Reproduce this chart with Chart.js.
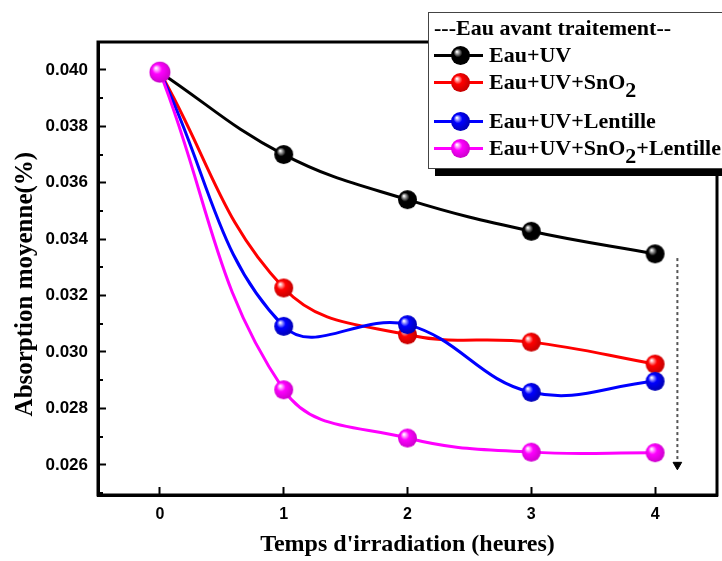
<!DOCTYPE html>
<html>
<head>
<meta charset="utf-8">
<script src="https://cdn.jsdelivr.net/npm/chart.js@4/dist/chart.umd.min.js"></script>
<style>
html,body{margin:0;padding:0;background:#fff;overflow:hidden;}
#wrap{position:relative;width:722px;height:561px;overflow:hidden;background:#fff;}
#c{position:absolute;left:0;top:0;}
#legend{position:absolute;left:428px;top:12px;width:330px;height:155px;border:1px solid #444;background:#fff;box-shadow:7px 7px 0 0 #000;font-family:"Liberation Serif","Times New Roman",serif;font-weight:bold;font-size:22px;line-height:22px;color:#000;z-index:2;}
.row{position:absolute;left:0;height:22px;white-space:nowrap;}
.ttl{left:5px;}
.ln{position:absolute;left:5px;top:10px;width:49px;height:3px;}
.sp{position:absolute;left:21px;top:1px;}
.tx{position:absolute;left:60px;top:0;}
.sb{display:inline-block;vertical-align:-8px;}
</style>
</head>
<body>
<div id="wrap">
<canvas id="c" width="722" height="561"></canvas>
<div id="legend">
  <div class="row ttl" style="top:4px">---Eau avant traitement--</div>
  <div class="row" style="top:31px;width:320px"><div class="ln" style="background:#000"></div><span class="sp" id="lg0"></span><span class="tx">Eau+UV</span></div>
  <div class="row" style="top:58px;width:320px"><div class="ln" style="background:#ff0000"></div><span class="sp" id="lg1"></span><span class="tx">Eau+UV+SnO<span class="sb">2</span></span></div>
  <div class="row" style="top:97px;width:320px"><div class="ln" style="background:#0000ff"></div><span class="sp" id="lg2"></span><span class="tx">Eau+UV+Lentille</span></div>
  <div class="row" style="top:124px;width:320px"><div class="ln" style="background:#ff00ff"></div><span class="sp" id="lg3"></span><span class="tx">Eau+UV+SnO<span class="sb">2</span>+Lentille</span></div>
</div>
</div>
<script>
// ---- data ----
const hours = [0, 1, 2, 3, 4];
const eauUV = [0.03992, 0.03700, 0.03540, 0.03428, 0.03348];
const eauUVSnO2 = [0.03992, 0.03227, 0.03061, 0.03035, 0.02957];
const eauUVLentille = [0.03992, 0.03091, 0.03097, 0.02857, 0.02896];
const eauUVSnO2Lentille = [0.03992, 0.02866, 0.02695, 0.02645, 0.02643];
const seriesLabels = ['Eau+UV', 'Eau+UV+SnO2', 'Eau+UV+Lentille', 'Eau+UV+SnO2+Lentille'];
const xTicks = [0, 1, 2, 3, 4];
const yTicks = [0.026, 0.028, 0.030, 0.032, 0.034, 0.036, 0.038, 0.040];
const yMinorTicks = [0.025, 0.027, 0.029, 0.031, 0.033, 0.035, 0.037, 0.039];
const arrowX = [4.18, 4.18];
const arrowY = [0.03333, 0.02600];

// ---- sphere markers ----
function sphere(color, edge, mid, r) {
  const s = Math.ceil(2 * r + 2);
  const c = document.createElement('canvas');
  c.width = c.height = s;
  const g = c.getContext('2d');
  const cx = s / 2, cy = s / 2;
  const grad = g.createRadialGradient(cx - r * 0.38, cy - r * 0.4, r * 0.04, cx - r * 0.1, cy - r * 0.1, r * 1.05);
  grad.addColorStop(0, '#ffffff');
  grad.addColorStop(0.16, mid);
  grad.addColorStop(0.42, color);
  grad.addColorStop(1, edge);
  g.fillStyle = grad;
  g.beginPath();
  g.arc(cx, cy, r, 0, Math.PI * 2);
  g.fill();
  return c;
}
const colors = ['#000000', '#ff0000', '#0000ff', '#ff00ff'];
const edges = ['#000000', '#c80000', '#0000b8', '#d000d0'];
const mids = ['#9a9a9a', '#ff9a9a', '#9a9aff', '#ffa0ff'];
const markers = colors.map((c, i) => sphere(c, edges[i], mids[i], 9.5));
const markerBig = sphere(colors[3], edges[3], mids[3], 10.5);
colors.forEach((c, i) => {
  document.getElementById('lg' + i).appendChild(sphere(c, edges[i], mids[i], 9.5));
});

function pts(ys) { return hours.map((h, i) => ({x: h, y: ys[i]})); }
const allSeries = [eauUV, eauUVSnO2, eauUVLentille, eauUVSnO2Lentille];
const datasets = allSeries.map((ys, i) => ({
  label: seriesLabels[i],
  data: pts(ys),
  borderColor: colors[i],
  backgroundColor: colors[i],
  borderWidth: 3,
  tension: 0.4,
  pointStyle: (i === 3) ? hours.map((h, k) => k === 0 ? markerBig : markers[3]) : markers[i],
  pointRadius: 9,
  order: 3 - i,
  clip: false
}));
datasets.push({
  label: 'arrow',
  data: arrowX.map((x, i) => ({x: x, y: arrowY[i]})),
  borderColor: '#555555',
  borderWidth: 2,
  borderDash: [3, 3],
  pointStyle: 'triangle',
  rotation: 180,
  pointRadius: [0, 5],
  pointBackgroundColor: '#000',
  pointBorderColor: '#000',
  pointBorderWidth: 1,
  tension: 0,
  order: 10
});

const framePlugin = {
  id: 'frame',
  afterDatasetsDraw(chart) {
    const {ctx, chartArea: a, scales: {y}} = chart;
    ctx.save();
    ctx.strokeStyle = '#000';
    ctx.lineWidth = 3;
    ctx.strokeRect(a.left, a.top, a.right - a.left, a.bottom - a.top);
    ctx.lineWidth = 2;
    yMinorTicks.forEach(v => {
      const p = Math.round(y.getPixelForValue(v));
      ctx.beginPath();
      ctx.moveTo(a.left, p);
      ctx.lineTo(a.left + 5, p);
      ctx.stroke();
    });
    ctx.restore();
  }
};

new Chart(document.getElementById('c'), {
  type: 'line',
  data: {datasets: datasets},
  options: {
    responsive: false,
    animation: false,
    events: [],
    layout: {autoPadding: false, padding: {left: 0, right: 5, top: 42, bottom: 0}},
    plugins: {legend: {display: false}, tooltip: {enabled: false}},
    scales: {
      x: {
        type: 'linear',
        min: -0.5, max: 4.5,
        afterBuildTicks: s => { s.ticks = xTicks.map(v => ({value: v})); },
        afterFit: s => { s.height = 66; s.paddingLeft = 0; s.paddingRight = 0; },
        grid: {drawOnChartArea: false, drawTicks: true, tickLength: -8, tickWidth: 2, tickColor: '#000'},
        border: {display: true, width: 3, color: '#000'},
        ticks: {
          autoSkip: false, maxRotation: 0, padding: 18, color: '#000',
          font: {family: '"Liberation Sans", Arial, sans-serif', weight: 'bold', size: 16},
          callback: v => String(v)
        },
        title: {
          display: true, text: "Temps d'irradiation (heures)", color: '#000',
          font: {family: '"Liberation Serif", "Times New Roman", serif', weight: 'bold', size: 24, lineHeight: 1.2},
          padding: {top: 0, bottom: 2}
        }
      },
      y: {
        type: 'linear',
        min: 0.02493, max: 0.04099,
        afterBuildTicks: s => { s.ticks = yTicks.map(v => ({value: v})); },
        afterFit: s => { s.width = 98; s.paddingTop = 0; s.paddingBottom = 0; },
        grid: {drawOnChartArea: false, drawTicks: true, tickLength: -8, tickWidth: 2, tickColor: '#000'},
        border: {display: true, width: 3, color: '#000'},
        ticks: {
          autoSkip: false, padding: 18, color: '#000',
          font: {family: '"Liberation Sans", Arial, sans-serif', weight: 'bold', size: 17},
          callback: v => v.toFixed(3)
        },
        title: {
          display: true, text: 'Absorption moyenne(%)     ', color: '#000',
          font: {family: '"Liberation Serif", "Times New Roman", serif', weight: 'bold', size: 25, lineHeight: 1.2},
          padding: {top: 11, bottom: 0}
        }
      }
    }
  },
  plugins: [framePlugin]
});
</script>
</body>
</html>
